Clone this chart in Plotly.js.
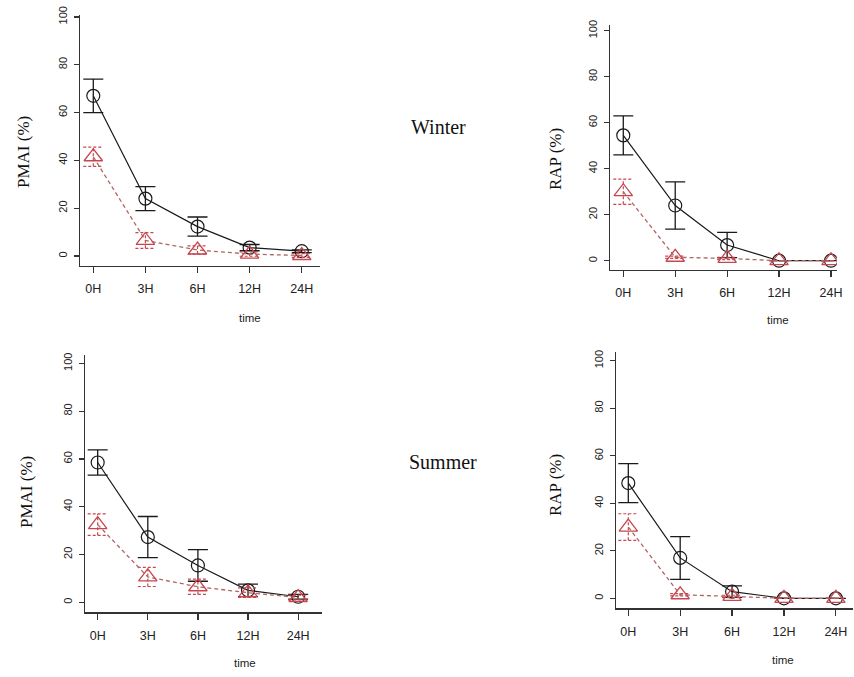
<!DOCTYPE html>
<html>
<head>
<meta charset="utf-8">
<script src="https://cdn.plot.ly/plotly-3.0.1.min.js"></script>
<style>html,body{margin:0;padding:0;background:#fff}#chart{width:854px;height:677px}</style>
</head>
<body>
<div id="chart"></div>
<script>
// ---------- data ----------
const timeLabels = ['0H', '3H', '6H', '12H', '24H'];
const timeIndex = [0, 1, 2, 3, 4];
const yTicks = [0, 20, 40, 60, 80, 100];

// Winter PMAI (%)
const winterPmaiA = [67, 24, 12.3, 3.5, 2];
const winterPmaiAErr = [7, 5, 4, 1.3, 0.6];
const winterPmaiB = [41.5, 6.5, 2.5, 0.8, 0.2];
const winterPmaiBErr = [4, 3.3, 1.7, 0.9, 0.8];
// Winter RAP (%)
const winterRapA = [54.5, 24, 6.8, 0, 0];
const winterRapAErr = [8.5, 10.3, 5.5, 0, 0];
const winterRapB = [30, 1.5, 1, 0, 0];
const winterRapBErr = [5.5, 0.5, 0.5, 0, 0];
// Summer PMAI (%)
const summerPmaiA = [58.5, 27.3, 15.4, 5, 2.3];
const summerPmaiAErr = [5.3, 8.6, 6.6, 2.6, 1];
const summerPmaiB = [32.5, 10.6, 6.5, 4, 2];
const summerPmaiBErr = [4.5, 4, 3.2, 2, 1];
// Summer RAP (%)
const summerRapA = [48.5, 17, 2.8, 0, 0];
const summerRapAErr = [8.2, 9, 2.4, 0, 0];
const summerRapB = [30, 1.5, 0.8, 0, 0];
const summerRapBErr = [5.6, 0.5, 0.5, 0, 0];

const panelTitles = ['PMAI (%)', 'RAP (%)', 'PMAI (%)', 'RAP (%)'];
const seasonLabels = ['Winter', 'Summer'];
const xTitle = 'time';

// ---------- layout geometry (pixels) ----------
const W = 854, H = 677;
const panels = [
  {a: winterPmaiA, ae: winterPmaiAErr, b: winterPmaiB, be: winterPmaiBErr,
   x0: 80, x1: 320, xr: [-0.255, 4.35], yTop: 15, yBot: 265.7, yr: [-4.06, 100.8],
   title: panelTitles[0], tx: 24, ty: 152, timeX: 250, timeY: 318},
  {a: winterRapA, ae: winterRapAErr, b: winterRapB, be: winterRapBErr,
   x0: 610, x1: 836.7, xr: [-0.256, 4.11], yTop: 25, yBot: 270, yr: [-4.04, 102.5],
   title: panelTitles[1], tx: 555, ty: 159, timeX: 778, timeY: 320},
  {a: summerPmaiA, ae: summerPmaiAErr, b: summerPmaiB, be: summerPmaiBErr,
   x0: 85, x1: 321.7, xr: [-0.253, 4.47], yTop: 355, yBot: 612.3, yr: [-4.2, 103.5],
   title: panelTitles[2], tx: 26, ty: 492, timeX: 245, timeY: 663},
  {a: summerRapA, ae: summerRapAErr, b: summerRapB, be: summerRapBErr,
   x0: 616, x1: 853, xr: [-0.237, 4.33], yTop: 351.7, yBot: 608.3, yr: [-4.2, 103.8],
   title: panelTitles[3], tx: 555, ty: 485, timeX: 783, timeY: 660}
];

const black = '#1a1a1a';
const red = '#c8464f';
const redLine = '#b06565';

const traces = [];
const layout = {
  width: W, height: H,
  margin: {l: 0, r: 0, t: 0, b: 0},
  paper_bgcolor: '#fff', plot_bgcolor: '#fff',
  showlegend: false,
  annotations: [],
  font: {family: 'Liberation Sans, Arial, sans-serif', color: '#222'}
};

panels.forEach((p, i) => {
  const n = i + 1;
  const xa = 'x' + (n === 1 ? '' : n);
  const ya = 'y' + (n === 1 ? '' : n);
  const pxPerUnit = (p.x1 - p.x0) / (p.xr[1] - p.xr[0]);
  const capHalf = 10 / pxPerUnit;

  // black solid series with error bars
  traces.push({
    x: timeIndex, y: p.a, xaxis: xa, yaxis: ya, type: 'scatter', mode: 'lines+markers',
    line: {color: black, width: 1.2},
    marker: {symbol: 'circle-open', size: 13, color: black, line: {width: 1.2, color: black}},
    error_y: {type: 'data', array: p.ae, visible: true, color: black, thickness: 1.3, width: 10},
    hoverinfo: 'skip'
  });

  // red dashed error bars (built from the series values)
  const ex = [], ey = [];
  timeIndex.forEach((t, k) => {
    const lo = p.b[k] - p.be[k], hi = p.b[k] + p.be[k];
    ex.push(t, t, null, t - capHalf, t + capHalf, null, t - capHalf, t + capHalf, null);
    ey.push(lo, hi, null, hi, hi, null, lo, lo, null);
  });
  traces.push({
    x: ex, y: ey, xaxis: xa, yaxis: ya, type: 'scatter', mode: 'lines',
    line: {color: red, width: 1.2, dash: '3px,2px'}, hoverinfo: 'skip', connectgaps: false
  });

  // red dashed series with triangles
  traces.push({
    x: timeIndex, y: p.b, xaxis: xa, yaxis: ya, type: 'scatter', mode: 'lines+markers',
    line: {color: redLine, width: 1.3, dash: '4px,3px'},
    marker: {symbol: 'triangle-up-open', size: 16, color: red, line: {width: 1.3, color: red}},
    hoverinfo: 'skip'
  });

  layout['xaxis' + (n === 1 ? '' : n)] = {
    domain: [p.x0 / W, p.x1 / W], range: p.xr, anchor: ya,
    tickmode: 'array', tickvals: timeIndex, ticktext: timeLabels,
    showgrid: false, zeroline: false, showline: true, linecolor: '#333', linewidth: 1.2,
    ticks: 'outside', ticklen: 6, tickcolor: '#333', tickwidth: 1.2,
    tickfont: {size: 12.5, color: '#222', family: 'Liberation Sans, Arial, sans-serif'},
    ticklabelstandoff: 5, fixedrange: true
  };
  layout['yaxis' + (n === 1 ? '' : n)] = {
    domain: [1 - p.yBot / H, 1 - p.yTop / H], range: p.yr, anchor: xa,
    tickmode: 'array', tickvals: yTicks,
    showgrid: false, zeroline: false, showline: true, linecolor: '#333', linewidth: 1.2,
    ticks: 'outside', ticklen: 5, tickcolor: '#333', tickwidth: 1.2, tickangle: -90,
    tickfont: {size: 11, color: '#222', family: 'Liberation Sans, Arial, sans-serif'},
    ticklabelstandoff: 2, fixedrange: true
  };

  layout.annotations.push({
    xref: 'paper', yref: 'paper', x: p.tx / W, y: 1 - p.ty / H, text: p.title,
    showarrow: false, textangle: -90, xanchor: 'center', yanchor: 'middle',
    font: {family: 'Liberation Serif, Times New Roman, serif', size: 17, color: '#111'}
  });
  layout.annotations.push({
    xref: 'paper', yref: 'paper', x: p.timeX / W, y: 1 - p.timeY / H, text: xTitle,
    showarrow: false, xanchor: 'center', yanchor: 'middle',
    font: {family: 'Liberation Sans, Arial, sans-serif', size: 11.5, color: '#222'}
  });
});

layout.annotations.push({
  xref: 'paper', yref: 'paper', x: 438 / W, y: 1 - 127 / H, text: seasonLabels[0],
  showarrow: false, xanchor: 'center', yanchor: 'middle',
  font: {family: 'Liberation Serif, Times New Roman, serif', size: 20, color: '#111'}
});
layout.annotations.push({
  xref: 'paper', yref: 'paper', x: 443 / W, y: 1 - 462 / H, text: seasonLabels[1],
  showarrow: false, xanchor: 'center', yanchor: 'middle',
  font: {family: 'Liberation Serif, Times New Roman, serif', size: 20, color: '#111'}
});

Plotly.newPlot('chart', traces, layout, {staticPlot: true, displayModeBar: false});
</script>
</body>
</html>
